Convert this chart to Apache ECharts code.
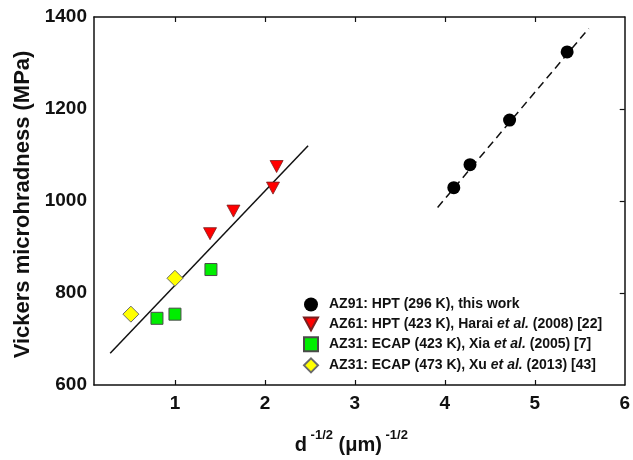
<!DOCTYPE html>
<html>
<head>
<meta charset="utf-8">
<script src="https://cdn.jsdelivr.net/npm/echarts@6/dist/echarts.min.js"></script>
<style>
  html, body { margin: 0; padding: 0; background: #fff; }
  #chart { width: 633px; height: 460px; }
</style>
</head>
<body>
<div id="chart"></div>
<script>
// Hall-Petch style plot: microhardness vs inverse square root of grain size
const FONT = 'Liberation Sans, Arial, Helvetica, sans-serif';

const seriesNames = [
  'AZ91: HPT (296 K), this work',
  'AZ61: HPT (423 K), Harai et al. (2008) [22]',
  'AZ31: ECAP (423 K), Xia et al. (2005) [7]',
  'AZ31: ECAP (473 K), Xu et al. (2013) [43]'
];

// [d^-1/2, Hv]
const az91Hpt = [[4.10, 1029], [4.28, 1079], [4.72, 1176], [5.36, 1324]];
const az61Hpt = [[2.13, 1075], [2.09, 1028], [1.65, 978], [1.39, 929]];
const az31EcapXia = [[1.40, 851], [1.00, 754], [0.80, 745]];
const az31EcapXu = [[1.00, 832], [0.51, 754]];

// fitted trend lines (end points)
const fitLiterature = [[0.28, 669], [2.48, 1120]];
const fitThisWork = [[3.92, 986], [5.60, 1375]];

const xTickValues = [1, 2, 3, 4, 5, 6];
const xInnerTicks = [1, 2, 3, 4, 5];
const yRightTicks = [800, 1000, 1200];

const DOWN_TRIANGLE = 'path://M0,0L12,0L6,11Z';

const frame = { lineStyle: { color: '#111', width: 1.5 } };

const chart = echarts.init(document.getElementById('chart'), null, { renderer: 'canvas' });

const italic = { fontStyle: 'italic', fontWeight: 'bold', fontSize: 14, fontFamily: FONT, color: '#111', lineHeight: 14 };

chart.setOption({
  animation: false,
  backgroundColor: '#fff',
  grid: { left: 94, right: 7, top: 17, bottom: 70, containLabel: false },
  legend: {
    data: [
      { name: seriesNames[0], icon: 'circle' },
      { name: seriesNames[1], icon: DOWN_TRIANGLE },
      { name: seriesNames[2], icon: 'rect' },
      { name: seriesNames[3], icon: 'diamond' }
    ],
    orient: 'vertical',
    left: 298,
    top: 292.5,
    itemWidth: 14,
    itemHeight: 14,
    itemGap: 5,
    selectedMode: false,
    textStyle: { fontFamily: FONT, fontWeight: 'bold', fontSize: 14, color: '#111', lineHeight: 14,
      padding: [0, 0, 0, 6], rich: { i: italic } },
    formatter: name => name.replace('et al.', '{i|et al.}')
  },
  xAxis: [{
    type: 'value', min: 0.1, max: 6, position: 'bottom',
    axisLine: frame,
    splitLine: { show: false },
    axisTick: { inside: true, length: 5, customValues: xInnerTicks, lineStyle: { color: '#111', width: 1.2 } },
    axisLabel: { customValues: xTickValues, margin: 9, fontFamily: FONT, fontWeight: 'bold', fontSize: 19, color: '#111' },
    name: '{b|d}{s| -1/2}{b| (μm)}{s| -1/2}',
    nameLocation: 'middle',
    nameGap: 44,
    nameTextStyle: {
      padding: [0, 16, 0, 0],
      rich: {
        b: { fontFamily: FONT, fontWeight: 'bold', fontSize: 20, color: '#111', lineHeight: 26, verticalAlign: 'bottom' },
        s: { fontFamily: FONT, fontWeight: 'bold', fontSize: 13, color: '#111', lineHeight: 26, verticalAlign: 'top' }
      }
    }
  }, {
    type: 'value', min: 0.1, max: 6, position: 'top',
    axisLine: frame,
    splitLine: { show: false },
    axisTick: { inside: true, length: 5, customValues: xInnerTicks, lineStyle: { color: '#111', width: 1.2 } },
    axisLabel: { show: false }
  }],
  yAxis: [{
    type: 'value', min: 600, max: 1400, interval: 200, position: 'left',
    axisLine: { show: true, lineStyle: { color: '#111', width: 1.5 } },
    splitLine: { show: false },
    axisTick: { show: false },
    axisLabel: { margin: 7, formatter: v => String(v), fontFamily: FONT, fontWeight: 'bold', fontSize: 19, color: '#111' },
    name: 'Vickers microhradness (MPa)',
    nameLocation: 'middle',
    nameRotate: 90,
    nameGap: 56,
    nameTextStyle: { fontFamily: FONT, fontWeight: 'bold', fontSize: 22, color: '#111', padding: [0, 7, 0, 0] }
  }, {
    type: 'value', min: 600, max: 1400, interval: 200, position: 'right',
    axisLine: { show: true, lineStyle: { color: '#111', width: 1.5 } },
    splitLine: { show: false },
    axisTick: { inside: true, length: 5, customValues: yRightTicks, lineStyle: { color: '#111', width: 1.2 } },
    axisLabel: { show: false }
  }],
  series: [
    {
      name: 'fit-literature', type: 'line', data: fitLiterature, symbol: 'none',
      lineStyle: { color: '#111', width: 1.5 }, z: 1, silent: true
    },
    {
      name: 'fit-this-work', type: 'line', data: fitThisWork, symbol: 'none',
      lineStyle: { color: '#111', width: 1.5, type: [8, 5] }, z: 1, silent: true
    },
    {
      name: seriesNames[0], type: 'scatter', data: az91Hpt,
      symbol: 'circle', symbolSize: 13,
      itemStyle: { color: '#000', borderColor: '#000', borderWidth: 0, opacity: 1 }, z: 3
    },
    {
      name: seriesNames[1], type: 'scatter', data: az61Hpt,
      symbol: DOWN_TRIANGLE, symbolSize: [13, 12],
      itemStyle: { color: '#ff0000', borderColor: '#7a2020', borderWidth: 0.8, opacity: 1 }, z: 3
    },
    {
      name: seriesNames[2], type: 'scatter', data: az31EcapXia,
      symbol: 'rect', symbolSize: 12,
      itemStyle: { color: '#00ee00', borderColor: '#4a4a4a', borderWidth: 1, opacity: 1 }, z: 3
    },
    {
      name: seriesNames[3], type: 'scatter', data: az31EcapXu,
      symbol: 'diamond', symbolSize: 16,
      itemStyle: { color: '#ffff00', borderColor: '#6a6a6a', borderWidth: 1, opacity: 1 }, z: 3
    }
  ]
});
</script>
</body>
</html>
